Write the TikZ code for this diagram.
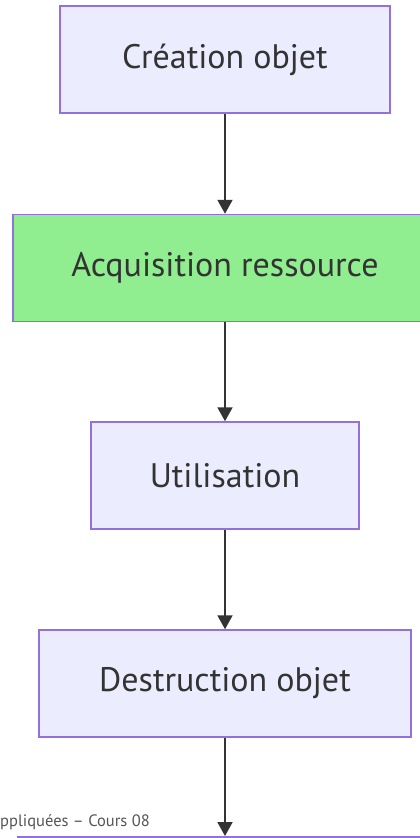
\documentclass[tikz,border=0pt]{standalone}
\usepackage{fontspec}
\setmainfont{PT Sans}
\usetikzlibrary{arrows.meta}
\definecolor{boxfill}{HTML}{ECECFF}
\definecolor{boxline}{HTML}{9370DB}
\definecolor{greenfill}{HTML}{90EE90}
\definecolor{ink}{HTML}{333333}
\definecolor{footgray}{HTML}{555555}
\newcommand{\steplabel}[1]{\raisebox{-2pt}{#1}}
\tikzset{
  stepbox/.style={draw=boxline, line width=1.5pt, fill=boxfill, text=ink,
    minimum height=107pt, inner sep=0pt, font=\fontsize{34}{38}\selectfont},
  flow/.style={draw=ink, line width=2pt, -{Triangle[length=14pt,width=15pt]}},
}
\begin{document}
\begin{tikzpicture}[x=1pt,y=-1pt]
\useasboundingbox (0,0) rectangle (420,838);
\clip (0,0) rectangle (420,838);
\node[stepbox, minimum width=330pt] (creation) at (225,59.5) {\steplabel{Création objet}};
\node[stepbox, fill=greenfill, minimum width=424pt] (acq) at (225,268) {\steplabel{Acquisition ressource}};
\node[stepbox, minimum width=268pt] (util) at (225,475.5) {\steplabel{Utilisation}};
\node[stepbox, minimum width=372pt] (destr) at (225,683.5) {\steplabel{Destruction objet}};
\node[stepbox, minimum width=414pt, anchor=north] (next) at (225,836) {};
\node[anchor=base west, inner sep=0pt, text=footgray, font=\fontsize{16.5}{18}\selectfont] (foot) at (0,826) {ppliquées – Cours 08};
\draw[flow] (creation) -- (acq);
\draw[flow] (acq) -- (util);
\draw[flow] (util) -- (destr);
\draw[flow] (destr) -- (next);
\end{tikzpicture}
\end{document}
